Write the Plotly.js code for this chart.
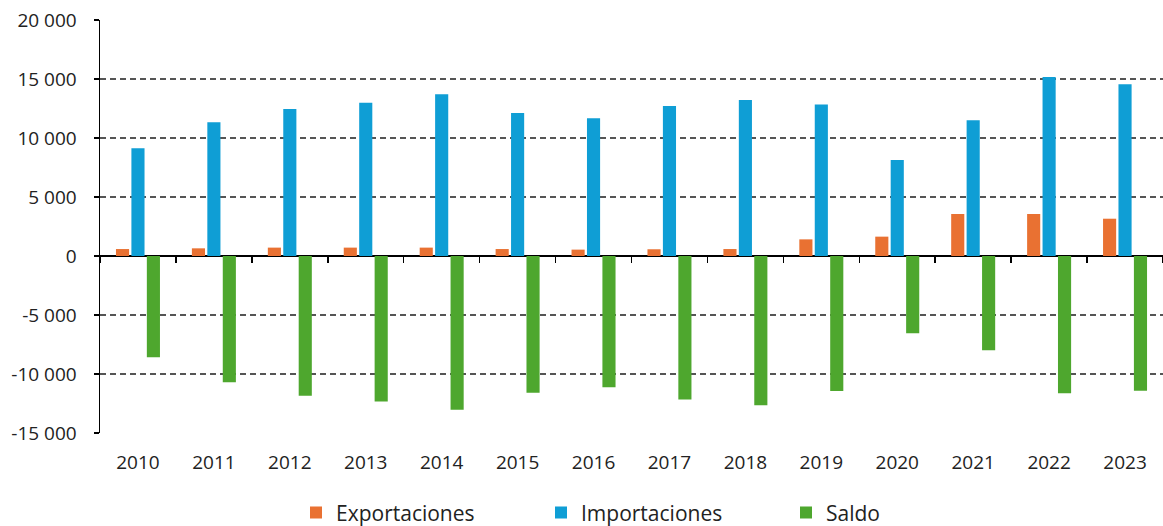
<!DOCTYPE html>
<html>
<head>
<meta charset="utf-8">
<script src="https://cdn.plot.ly/plotly-3.0.1.min.js"></script>
<style>html,body{margin:0;padding:0;background:#fff}#chart{width:1163px;height:526px}</style>
</head>
<body>
<div id="chart"></div>
<script>
const years = ["2010","2011","2012","2013","2014","2015","2016","2017","2018","2019","2020","2021","2022","2023"];
const exportaciones = [590, 650, 710, 710, 710, 590, 540, 570, 590, 1410, 1640, 3560, 3560, 3160];
const importaciones = [9130, 11330, 12460, 12990, 13700, 12120, 11670, 12710, 13220, 12830, 8140, 11500, 15170, 14550];
const saldo = [-8580, -10700, -11840, -12340, -13020, -11580, -11130, -12170, -12650, -11440, -6550, -7990, -11640, -11410];
const yTickVals = [-15000, -10000, -5000, 0, 5000, 10000, 15000, 20000];
const yTickText = ["-15 000", "-10 000", "-5 000", "0", "5 000", "10 000", "15 000", "20 000"];
const seriesNames = ["Exportaciones", "Importaciones", "Saldo"];

const font = "'Open Sans', 'Noto Sans', sans-serif";
const yMin = -15000, yMax = 20000;

const traces = [
  {type:'bar', name:seriesNames[0], x:years, y:exportaciones, marker:{color:'#E97132'}, hoverinfo:'skip'},
  {type:'bar', name:seriesNames[1], x:years, y:importaciones, marker:{color:'#0F9ED5'}, hoverinfo:'skip'},
  {type:'bar', name:seriesNames[2], x:years, y:saldo, marker:{color:'#4EA72E'}, hoverinfo:'skip'},
  {type:'scatter', mode:'none', x:years, y:saldo, xaxis:'x2', yaxis:'y', showlegend:false, hoverinfo:'skip'}
];

const layout = {
  width:1163, height:526,
  margin:{l:100, r:0, t:20, b:93},
  paper_bgcolor:'#fff', plot_bgcolor:'#fff',
  barmode:'group', bargap:0.39, bargroupgap:0.15,
  font:{family:font, size:19, color:'#222'},
  showlegend:true,
  legend:{orientation:'h', x:296/1163, xanchor:'left', xref:'container', y:0.025, yanchor:'middle', yref:'container',
          font:{family:font, size:21, color:'#222'}, entrywidth:200, entrywidthmode:'pixels', traceorder:'normal'},
  xaxis:{type:'category', categoryarray:years, categoryorder:'array', range:[-0.5, 13.5],
         showline:false, showgrid:false, zeroline:false, ticks:'outside', ticklen:12, tickcolor:'rgba(0,0,0,0)',
         tickfont:{family:font, size:19, color:'#222'}},
  xaxis2:{type:'category', categoryarray:years, categoryorder:'array', range:[-0.5, 13.5], overlaying:'x',
          anchor:'free', position:(0 - yMin)/(yMax - yMin), showline:false, showgrid:false, zeroline:false,
          ticks:'outside', tickson:'boundaries', ticklen:6, tickwidth:1.5, tickcolor:'#000', showticklabels:false},
  yaxis:{range:[yMin, yMax], tickvals:yTickVals, ticktext:yTickText, showline:true, linecolor:'#000', linewidth:1.5,
         ticks:'outside', ticklen:5, tickwidth:1.5, tickcolor:'#000', ticklabelstandoff:13,
         showgrid:true, gridcolor:'#555', gridwidth:1.4, griddash:'6px,4px',
         zeroline:true, zerolinecolor:'#000', zerolinewidth:1.5,
         tickfont:{family:font, size:19, color:'#222'}}
};

Plotly.newPlot('chart', traces, layout, {displayModeBar:false, staticPlot:true});
</script>
</body>
</html>
